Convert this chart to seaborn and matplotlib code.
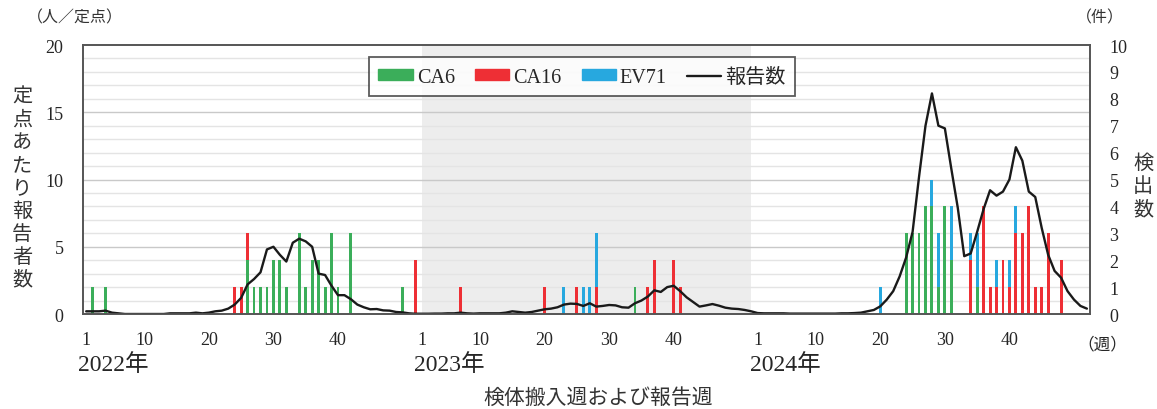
import pandas as pd
import seaborn as sns
import matplotlib.pyplot as plt
from matplotlib.patches import Patch
from matplotlib.lines import Line2D

years = ["2022", "2023", "2024"]
weeks = list(range(1, 53))

# 定点あたり報告数 (人/定点)
rep_2022 = [0.2, 0.2, 0.2, 0.25, 0.1, 0.05, 0.0, 0.0, 0.0, 0.0,
            0.0, 0.0, 0.0, 0.05, 0.05, 0.05, 0.05, 0.1, 0.05, 0.1,
            0.2, 0.25, 0.4, 0.7, 1.2, 2.2, 2.6, 3.1, 4.8, 5.0,
            4.4, 3.9, 5.3, 5.6, 5.4, 5.0, 3.0, 2.9, 2.1, 1.4,
            1.4, 1.1, 0.7, 0.5, 0.35, 0.37, 0.27, 0.25, 0.15, 0.12,
            0.05, 0.02]
rep_2023 = [0.02, 0.02, 0.03, 0.03, 0.05, 0.05, 0.1, 0.05, 0.03, 0.05,
            0.05, 0.05, 0.05, 0.1, 0.2, 0.15, 0.1, 0.15, 0.25, 0.35,
            0.4, 0.5, 0.7, 0.77, 0.75, 0.6, 0.8, 0.55, 0.6, 0.67,
            0.64, 0.5, 0.47, 0.8, 1.0, 1.3, 1.76, 1.64, 2.0, 2.1,
            1.7, 1.24, 0.9, 0.55, 0.64, 0.74, 0.62, 0.47, 0.4, 0.37,
            0.3, 0.2]
rep_2024 = [0.07, 0.05, 0.05, 0.05, 0.05, 0.03, 0.03, 0.03, 0.03, 0.03,
            0.03, 0.03, 0.03, 0.05, 0.05, 0.07, 0.1, 0.2, 0.3, 0.57,
            1.07, 1.7, 2.8, 4.2, 6.1, 10.2, 14.0, 16.4, 14.0, 13.8,
            10.8, 7.9, 4.3, 4.5, 6.1, 7.8, 9.2, 8.8, 9.1, 10.0,
            12.4, 11.4, 9.1, 8.7, 6.4, 4.4, 3.2, 2.7, 1.7, 1.07,
            0.6, 0.4]

# 検出数 (件)  {週: 件数}
ca6 = {"2022": {2: 1, 4: 1, 26: 2, 27: 1, 28: 1, 29: 1, 30: 2, 31: 2, 32: 1, 34: 3,
                35: 1, 36: 2, 37: 2, 38: 1, 39: 3, 40: 1, 42: 3, 50: 1},
       "2023": {34: 1},
       "2024": {24: 3, 25: 3, 26: 3, 27: 4, 28: 4, 29: 1, 30: 4, 31: 2, 35: 1}}
ca16 = {"2022": {24: 1, 25: 1, 26: 1, 52: 2},
        "2023": {7: 1, 20: 1, 25: 1, 28: 1, 36: 1, 37: 2, 40: 2, 41: 1},
        "2024": {34: 2, 36: 4, 37: 1, 38: 1, 39: 2, 40: 1, 41: 3, 42: 3, 43: 4,
                 44: 1, 45: 1, 46: 3, 48: 2}}
ev71 = {"2022": {},
        "2023": {23: 1, 26: 1, 27: 1, 28: 2},
        "2024": {20: 1, 28: 1, 29: 2, 31: 2, 34: 1, 35: 2, 38: 1, 40: 1, 41: 1}}

tick_weeks = [1, 10, 20, 30, 40]

reps = {"2022": rep_2022, "2023": rep_2023, "2024": rep_2024}
rows = []
for yi, y in enumerate(years):
    for w in weeks:
        rows.append({"idx": yi * 52 + w - 1,
                     "CA6": ca6[y].get(w, 0),
                     "CA16": ca16[y].get(w, 0),
                     "EV71": ev71[y].get(w, 0),
                     "report": reps[y][w - 1]})
df = pd.DataFrame(rows)
df["lv1"] = df["CA6"]
df["lv2"] = df["CA6"] + df["CA16"]
df["lv3"] = df["lv2"] + df["EV71"]

sns.set_style("white")
plt.rcParams["font.family"] = ["Liberation Serif", "Noto Sans CJK JP"]
jp = ["Noto Sans CJK JP", "Liberation Serif"]

c_g, c_r, c_b = "#3bae5a", "#ee2f35", "#27a8df"

fig = plt.figure(figsize=(11.57, 4.10), dpi=100)
ax = fig.add_axes([0.0717, 0.2317, 0.8705, 0.6561])

# 2023年の網掛け
ax.axvspan(52.0, 103.0, color="#ededed", zorder=0, lw=0)
for v in [i * 0.5 for i in range(1, 20)]:
    ax.axhline(v, color="#c9c9c9" if v in (2.5, 5, 7.5) else "#e4e4e4", lw=1, zorder=0.5)

order = list(range(156))
for col, c in [("lv3", c_b), ("lv2", c_r), ("lv1", c_g)]:
    sns.barplot(data=df, x="idx", y=col, order=order, color=c, saturation=1,
                width=0.45, linewidth=0, ax=ax, zorder=2)

ax2 = ax.twinx()
sns.lineplot(data=df, x="idx", y="report", color="#1a1a1a", lw=1.7, ax=ax2)

ax.set_xlim(-0.5, 155.5)
ax.set_ylim(0, 10)
ax2.set_ylim(0, 20)
ax.yaxis.tick_right()
ax.yaxis.set_label_position("right")
ax2.yaxis.tick_left()
ax2.yaxis.set_label_position("left")
ax.set_yticks(range(11))
ax2.set_yticks(range(0, 21, 5))
ax.tick_params(axis="y", length=0, pad=14, labelsize=13)
ax2.tick_params(axis="y", length=0, pad=14, labelsize=13)

pos, labs = [], []
for yi in range(3):
    for w in tick_weeks:
        pos.append(yi * 52 + w - 1)
        labs.append(str(w))
ax.set_xticks(pos)
ax.set_xticklabels(labs)
ax.tick_params(axis="x", length=0, pad=12, labelsize=13)
ax.set_xlabel("")
ax.set_ylabel("")
ax2.set_xlabel("")
ax2.set_ylabel("")

for yi, y in enumerate(years):
    ax.text(yi * 52 - 1.2, -0.185, y + "年", transform=ax.get_xaxis_transform(),
            ha="left", va="center", fontsize=17)
ax.text(1.012, -0.11, "（週）", transform=ax.transAxes, ha="center", va="center",
        fontsize=12, family=jp)

for a in (ax, ax2):
    for s in a.spines.values():
        s.set_color("#555555")
        s.set_linewidth(1.2)

fig.text(0.019, 0.54, "\n".join("定点あたり報告者数"), ha="center", va="center",
         fontsize=14.5, family=jp, linespacing=1.12, color="#333333")
fig.text(0.988, 0.545, "\n".join("検出数"), ha="center", va="center",
         fontsize=14.5, family=jp, linespacing=1.12, color="#333333")
fig.text(0.023, 0.955, "（人／定点）", ha="left", va="center", fontsize=11.5,
         family=jp, color="#333333")
fig.text(0.951, 0.955, "（件）", ha="center", va="center", fontsize=11.5,
         family=jp, color="#333333")
fig.text(0.517, 0.03, "検体搬入週および報告週", ha="center", va="center",
         fontsize=15, family=jp, color="#333333")

handles = [Patch(color=c_g, label="CA6"), Patch(color=c_r, label="CA16"),
           Patch(color=c_b, label="EV71"),
           Line2D([], [], color="#1a1a1a", lw=1.7, label="報告数")]
leg = ax2.legend(handles=handles, loc="center", bbox_to_anchor=(0.4955, 0.883),
                 ncol=4, fontsize=14.5, frameon=True, fancybox=False,
                 handlelength=1.7, handleheight=0.45, handletextpad=0.2,
                 columnspacing=1.0, borderpad=0.45)
leg.get_frame().set_edgecolor("#333333")
leg.get_frame().set_linewidth(1.3)
for t in leg.get_texts():
    if t.get_text() == "報告数":
        t.set_family(jp)

fig.savefig("out.png", dpi=100)
